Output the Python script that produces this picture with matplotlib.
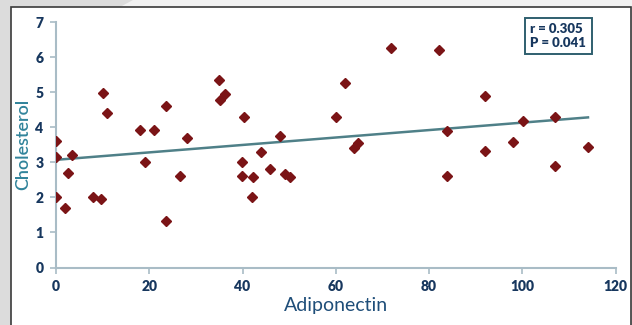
import matplotlib
matplotlib.use("Agg")
import matplotlib.pyplot as plt
from matplotlib.patches import Rectangle, Polygon

adiponectin = [0, 0, 0, 2.0, 2.5, 3.5, 7.9, 9.6, 10.0, 11.0, 18.0, 19.0, 21.0, 23.5, 23.5,
               26.5, 28.0, 35.0, 35.2, 36.2, 39.9, 39.9, 40.4, 42.2, 42.0, 44.0, 46.0, 48.1,
               49.1, 50.1, 60.1, 62.0, 64.0, 64.8, 71.9, 82.1, 83.9, 83.9, 92.0, 92.0, 98.0,
               100.1, 107.1, 107.1, 114.1]
cholesterol = [3.61, 3.14, 2.02, 1.69, 2.70, 3.21, 2.02, 1.95, 4.98, 4.41, 3.91, 3.02, 3.91,
               4.61, 1.32, 2.61, 3.68, 5.35, 4.79, 4.94, 3.00, 2.62, 4.29, 2.58, 2.02, 3.28,
               2.81, 3.76, 2.67, 2.57, 4.28, 5.27, 3.40, 3.54, 6.26, 6.20, 3.90, 2.60, 4.89,
               3.31, 3.59, 4.18, 4.30, 2.88, 3.45]
trend_x = [0, 114.1]
trend_y = [3.07, 4.28]
x_ticks = [0, 20, 40, 60, 80, 100, 120]
y_ticks = [0, 1, 2, 3, 4, 5, 6, 7]
stats_text = "r = 0.305\nP = 0.041"

W, H = 632, 325
fig = plt.figure(figsize=(W / 100, H / 100), dpi=100)
fig.patch.set_facecolor("#dcdcdc")

# light band on top
fig.patches.append(Polygon([(120 / W, 1 - 7 / H), (133 / W, 1.0), (1.0, 1.0), (1.0, 1 - 7 / H)],
                           closed=True, transform=fig.transFigure, facecolor="#f2f2f2",
                           edgecolor="none", zorder=0))
# white panel with dark border
fig.patches.append(Rectangle((11 / W, -0.05), (631 - 11) / W, 1 - 7 / H + 0.05,
                             transform=fig.transFigure, facecolor="white",
                             edgecolor="#3a3a3a", linewidth=1.2, zorder=1))

ax = fig.add_axes([56 / W, 1 - 267.5 / H, (615.5 - 56) / W, (267.5 - 22) / H])
ax.set_facecolor("none")
ax.set_zorder(2)

ax.plot(trend_x, trend_y, color="#4f8088", linewidth=1.8, zorder=2)
ax.plot(adiponectin, cholesterol, linestyle="none", marker="D", markersize=5.6,
        color="#7b1416", markeredgecolor="#7b1416", zorder=3)

ax.set_xlim(0, 120)
ax.set_ylim(0, 7)
ax.set_xticks(x_ticks)
ax.set_yticks(y_ticks)

for side in ("top", "right"):
    ax.spines[side].set_visible(False)
for side in ("left", "bottom"):
    ax.spines[side].set_color("#a9bcc6")
    ax.spines[side].set_linewidth(1.5)

ax.tick_params(axis="both", direction="out", length=4, width=1.2, color="#a9bcc6",
               labelsize=10, labelcolor="#17375e", pad=5)
for lab in ax.get_xticklabels() + ax.get_yticklabels():
    lab.set_fontweight("heavy")
    lab.set_family("Lato")

ax.set_xlabel("Adiponectin", fontsize=14, color="#1f4e79", family="Lato", labelpad=3)
ax.set_ylabel("Cholesterol", fontsize=13, color="#31849b", family="Lato",
              fontweight="semibold", labelpad=3)

ax.text(0.848, 0.995, stats_text, transform=ax.transAxes, ha="left", va="top",
        fontsize=9.5, fontweight="heavy", color="#17375e", family="Lato", linespacing=1.15,
        bbox=dict(boxstyle="square,pad=0.4", facecolor="white", edgecolor="#2f5f6f",
                  linewidth=1.4))

fig.savefig("out.png", dpi=100, facecolor=fig.get_facecolor())
